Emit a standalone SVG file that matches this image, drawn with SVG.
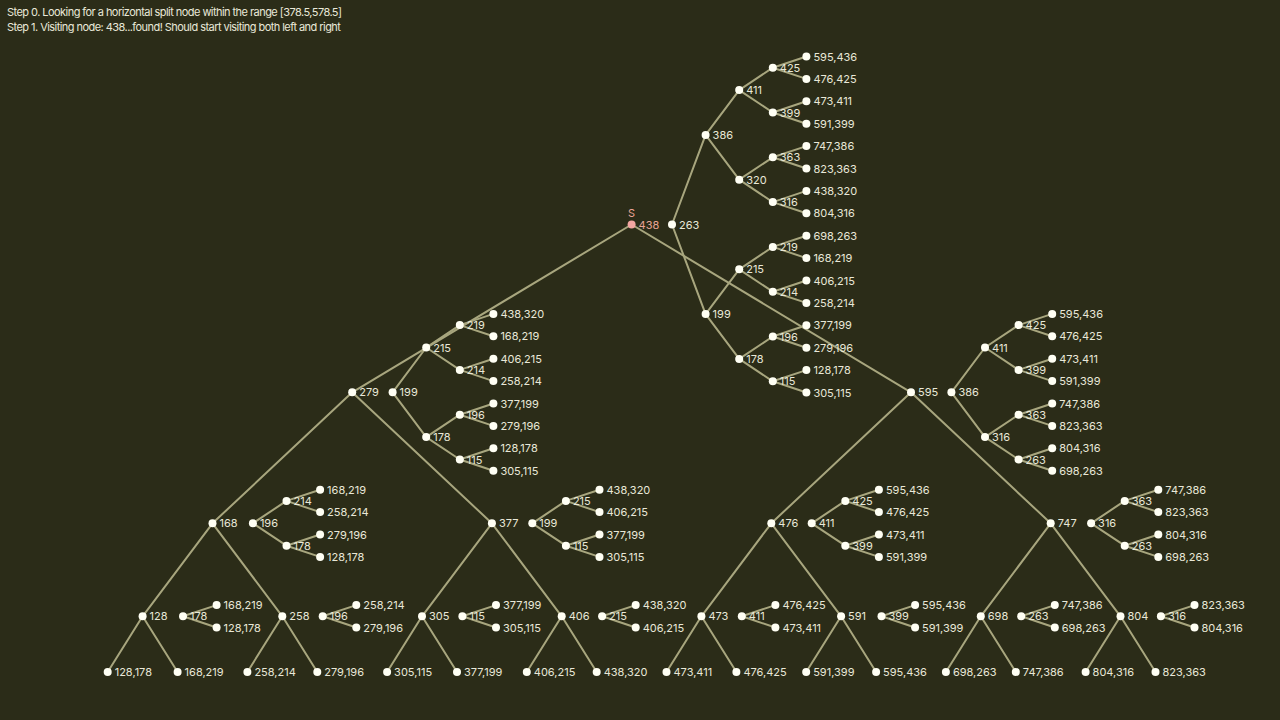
<svg xmlns="http://www.w3.org/2000/svg" width="1280" height="720" viewBox="0 0 1280 720">
<style>
.bg{fill:#2b2c18}
.e path{stroke:#a8a67e;stroke-width:2;fill:none}
.n circle{fill:#fffff4}
text{font-family:Inter,"Noto Sans","Liberation Sans",sans-serif;font-size:11px;fill:#e9e8d8}
.hd text{letter-spacing:-0.55px}
.hl circle{fill:#f3a6a2}
.hl text{fill:#e9a596}
</style>
<rect class="bg" x="0" y="0" width="1280" height="720"/>
<g id="header" class="hd">
<text x="7" y="15.5">Step 0. Looking for a horizontal split node within the range [378.5,578.5]</text>
<text x="7" y="30.5">Step 1. Visiting node: 438...found! Should start visiting both left and right</text>
</g>
<g class="e" id="connectors">
<!-- main tree -->
<path d="M631.6 224.5L352.2 392.3M631.6 224.5L911 392.3"/>
<path d="M352.2 392.3L212.5 523.3M352.2 392.3L491.9 523.3M911 392.3L771.3 523.3M911 392.3L1050.7 523.3"/>
<path d="M212.5 523.3L142.6 616.3M212.5 523.3L282.3 616.3M491.9 523.3L422 616.3M491.9 523.3L561.7 616.3M771.3 523.3L701.4 616.3M771.3 523.3L841.1 616.3M1050.7 523.3L980.8 616.3M1050.7 523.3L1120.5 616.3"/>
<path d="M142.6 616.3L107.7 672M142.6 616.3L177.6 672M282.3 616.3L247.4 672M282.3 616.3L317.3 672M422 616.3L387.1 672M422 616.3L457 672M561.7 616.3L526.8 672M561.7 616.3L596.7 672M701.4 616.3L666.5 672M701.4 616.3L736.4 672M841.1 616.3L806.2 672M841.1 616.3L876.1 672M980.8 616.3L945.9 672M980.8 616.3L1015.8 672M1120.5 616.3L1085.6 672M1120.5 616.3L1155.5 672"/>
<!-- root aux tree -->
<path d="M672 224.5L705.6 134.9M672 224.5L705.6 314.1M705.6 134.9L739.2 90.1M705.6 134.9L739.2 179.7M705.6 314.1L739.2 269.3M705.6 314.1L739.2 358.9"/>
<path d="M739.2 90.1L772.8 67.7M739.2 90.1L772.8 112.5M739.2 179.7L772.8 157.3M739.2 179.7L772.8 202.1M739.2 269.3L772.8 246.9M739.2 269.3L772.8 291.7M739.2 358.9L772.8 336.5M739.2 358.9L772.8 381.3"/>
<path d="M772.8 67.7L806.4 56.5M772.8 67.7L806.4 78.9M772.8 112.5L806.4 101.3M772.8 112.5L806.4 123.7M772.8 157.3L806.4 146.1M772.8 157.3L806.4 168.5M772.8 202.1L806.4 190.9M772.8 202.1L806.4 213.3M772.8 246.9L806.4 235.7M772.8 246.9L806.4 258.1M772.8 291.7L806.4 280.5M772.8 291.7L806.4 302.9M772.8 336.5L806.4 325.3M772.8 336.5L806.4 347.7M772.8 381.3L806.4 370.1M772.8 381.3L806.4 392.5"/>
<!-- 279 aux -->
<path d="M392.6 392.3L426.2 347.5M392.6 392.3L426.2 437.1M426.2 347.5L459.8 325.1M426.2 347.5L459.8 369.9M426.2 437.1L459.8 414.7M426.2 437.1L459.8 459.5"/>
<path d="M459.8 325.1L493.4 313.9M459.8 325.1L493.4 336.3M459.8 369.9L493.4 358.7M459.8 369.9L493.4 381.1M459.8 414.7L493.4 403.5M459.8 414.7L493.4 425.9M459.8 459.5L493.4 448.3M459.8 459.5L493.4 470.7"/>
<!-- 595 aux -->
<path d="M951.4 392.3L985 347.5M951.4 392.3L985 437.1M985 347.5L1018.6 325.1M985 347.5L1018.6 369.9M985 437.1L1018.6 414.7M985 437.1L1018.6 459.5"/>
<path d="M1018.6 325.1L1052.2 313.9M1018.6 325.1L1052.2 336.3M1018.6 369.9L1052.2 358.7M1018.6 369.9L1052.2 381.1M1018.6 414.7L1052.2 403.5M1018.6 414.7L1052.2 425.9M1018.6 459.5L1052.2 448.3M1018.6 459.5L1052.2 470.7"/>
<!-- level3 aux -->
<path d="M252.9 523.3L286.5 500.9M252.9 523.3L286.5 545.7M286.5 500.9L320.1 489.7M286.5 500.9L320.1 512.1M286.5 545.7L320.1 534.5M286.5 545.7L320.1 556.9"/>
<path d="M532.3 523.3L565.9 500.9M532.3 523.3L565.9 545.7M565.9 500.9L599.5 489.7M565.9 500.9L599.5 512.1M565.9 545.7L599.5 534.5M565.9 545.7L599.5 556.9"/>
<path d="M811.7 523.3L845.3 500.9M811.7 523.3L845.3 545.7M845.3 500.9L878.9 489.7M845.3 500.9L878.9 512.1M845.3 545.7L878.9 534.5M845.3 545.7L878.9 556.9"/>
<path d="M1091.1 523.3L1124.7 500.9M1091.1 523.3L1124.7 545.7M1124.7 500.9L1158.3 489.7M1124.7 500.9L1158.3 512.1M1124.7 545.7L1158.3 534.5M1124.7 545.7L1158.3 556.9"/>
<!-- level4 aux -->
<path d="M183 616.3L216.6 605.1M183 616.3L216.6 627.5M322.7 616.3L356.3 605.1M322.7 616.3L356.3 627.5M462.4 616.3L496 605.1M462.4 616.3L496 627.5M602.1 616.3L635.7 605.1M602.1 616.3L635.7 627.5"/>
<path d="M741.8 616.3L775.4 605.1M741.8 616.3L775.4 627.5M881.5 616.3L915.1 605.1M881.5 616.3L915.1 627.5M1021.2 616.3L1054.8 605.1M1021.2 616.3L1054.8 627.5M1160.9 616.3L1194.5 605.1M1160.9 616.3L1194.5 627.5"/>
</g>
<g id="nodes">
<!-- main tree -->
<g id="m-438" class="n hl"><text x="631.6" y="217" text-anchor="middle">S</text><circle cx="631.6" cy="224.5" r="4"/><text x="638.6" y="228.5">438</text></g>
<g id="m-279" class="n"><circle cx="352.2" cy="392.3" r="4"/><text x="359.2" y="396.3">279</text></g>
<g id="m-595" class="n"><circle cx="911" cy="392.3" r="4"/><text x="918" y="396.3">595</text></g>
<g id="m-168" class="n"><circle cx="212.5" cy="523.3" r="4"/><text x="219.5" y="527.3">168</text></g>
<g id="m-377" class="n"><circle cx="491.9" cy="523.3" r="4"/><text x="498.9" y="527.3">377</text></g>
<g id="m-476" class="n"><circle cx="771.3" cy="523.3" r="4"/><text x="778.3" y="527.3">476</text></g>
<g id="m-747" class="n"><circle cx="1050.7" cy="523.3" r="4"/><text x="1057.7" y="527.3">747</text></g>
<g id="m-128" class="n"><circle cx="142.6" cy="616.3" r="4"/><text x="149.6" y="620.3">128</text></g>
<g id="m-258" class="n"><circle cx="282.3" cy="616.3" r="4"/><text x="289.3" y="620.3">258</text></g>
<g id="m-305" class="n"><circle cx="422" cy="616.3" r="4"/><text x="429" y="620.3">305</text></g>
<g id="m-406" class="n"><circle cx="561.7" cy="616.3" r="4"/><text x="568.7" y="620.3">406</text></g>
<g id="m-473" class="n"><circle cx="701.4" cy="616.3" r="4"/><text x="708.4" y="620.3">473</text></g>
<g id="m-591" class="n"><circle cx="841.1" cy="616.3" r="4"/><text x="848.1" y="620.3">591</text></g>
<g id="m-698" class="n"><circle cx="980.8" cy="616.3" r="4"/><text x="987.8" y="620.3">698</text></g>
<g id="m-804" class="n"><circle cx="1120.5" cy="616.3" r="4"/><text x="1127.5" y="620.3">804</text></g>
<g id="m-l0" class="n"><circle cx="107.7" cy="672" r="4"/><text x="114.7" y="676">128,178</text></g>
<g id="m-l1" class="n"><circle cx="177.6" cy="672" r="4"/><text x="184.6" y="676">168,219</text></g>
<g id="m-l2" class="n"><circle cx="247.4" cy="672" r="4"/><text x="254.4" y="676">258,214</text></g>
<g id="m-l3" class="n"><circle cx="317.3" cy="672" r="4"/><text x="324.3" y="676">279,196</text></g>
<g id="m-l4" class="n"><circle cx="387.1" cy="672" r="4"/><text x="394.1" y="676">305,115</text></g>
<g id="m-l5" class="n"><circle cx="457" cy="672" r="4"/><text x="464" y="676">377,199</text></g>
<g id="m-l6" class="n"><circle cx="526.8" cy="672" r="4"/><text x="533.8" y="676">406,215</text></g>
<g id="m-l7" class="n"><circle cx="596.7" cy="672" r="4"/><text x="603.7" y="676">438,320</text></g>
<g id="m-l8" class="n"><circle cx="666.5" cy="672" r="4"/><text x="673.5" y="676">473,411</text></g>
<g id="m-l9" class="n"><circle cx="736.4" cy="672" r="4"/><text x="743.4" y="676">476,425</text></g>
<g id="m-l10" class="n"><circle cx="806.2" cy="672" r="4"/><text x="813.2" y="676">591,399</text></g>
<g id="m-l11" class="n"><circle cx="876.1" cy="672" r="4"/><text x="883.1" y="676">595,436</text></g>
<g id="m-l12" class="n"><circle cx="945.9" cy="672" r="4"/><text x="952.9" y="676">698,263</text></g>
<g id="m-l13" class="n"><circle cx="1015.8" cy="672" r="4"/><text x="1022.8" y="676">747,386</text></g>
<g id="m-l14" class="n"><circle cx="1085.6" cy="672" r="4"/><text x="1092.6" y="676">804,316</text></g>
<g id="m-l15" class="n"><circle cx="1155.5" cy="672" r="4"/><text x="1162.5" y="676">823,363</text></g>
<!-- root aux tree -->
<g id="r-263" class="n"><circle cx="672" cy="224.5" r="4"/><text x="679" y="228.5">263</text></g>
<g id="r-386" class="n"><circle cx="705.6" cy="134.9" r="4"/><text x="712.6" y="138.9">386</text></g>
<g id="r-199" class="n"><circle cx="705.6" cy="314.1" r="4"/><text x="712.6" y="318.1">199</text></g>
<g id="r-411" class="n"><circle cx="739.2" cy="90.1" r="4"/><text x="746.2" y="94.1">411</text></g>
<g id="r-320" class="n"><circle cx="739.2" cy="179.7" r="4"/><text x="746.2" y="183.7">320</text></g>
<g id="r-215" class="n"><circle cx="739.2" cy="269.3" r="4"/><text x="746.2" y="273.3">215</text></g>
<g id="r-178" class="n"><circle cx="739.2" cy="358.9" r="4"/><text x="746.2" y="362.9">178</text></g>
<g id="r-425" class="n"><circle cx="772.8" cy="67.7" r="4"/><text x="779.8" y="71.7">425</text></g>
<g id="r-399" class="n"><circle cx="772.8" cy="112.5" r="4"/><text x="779.8" y="116.5">399</text></g>
<g id="r-363" class="n"><circle cx="772.8" cy="157.3" r="4"/><text x="779.8" y="161.3">363</text></g>
<g id="r-316" class="n"><circle cx="772.8" cy="202.1" r="4"/><text x="779.8" y="206.1">316</text></g>
<g id="r-219" class="n"><circle cx="772.8" cy="246.9" r="4"/><text x="779.8" y="250.9">219</text></g>
<g id="r-214" class="n"><circle cx="772.8" cy="291.7" r="4"/><text x="779.8" y="295.7">214</text></g>
<g id="r-196" class="n"><circle cx="772.8" cy="336.5" r="4"/><text x="779.8" y="340.5">196</text></g>
<g id="r-115" class="n"><circle cx="772.8" cy="381.3" r="4"/><text x="779.8" y="385.3">115</text></g>
<g id="r-l0" class="n"><circle cx="806.4" cy="56.5" r="4"/><text x="813.4" y="60.5">595,436</text></g>
<g id="r-l1" class="n"><circle cx="806.4" cy="78.9" r="4"/><text x="813.4" y="82.9">476,425</text></g>
<g id="r-l2" class="n"><circle cx="806.4" cy="101.3" r="4"/><text x="813.4" y="105.3">473,411</text></g>
<g id="r-l3" class="n"><circle cx="806.4" cy="123.7" r="4"/><text x="813.4" y="127.7">591,399</text></g>
<g id="r-l4" class="n"><circle cx="806.4" cy="146.1" r="4"/><text x="813.4" y="150.1">747,386</text></g>
<g id="r-l5" class="n"><circle cx="806.4" cy="168.5" r="4"/><text x="813.4" y="172.5">823,363</text></g>
<g id="r-l6" class="n"><circle cx="806.4" cy="190.9" r="4"/><text x="813.4" y="194.9">438,320</text></g>
<g id="r-l7" class="n"><circle cx="806.4" cy="213.3" r="4"/><text x="813.4" y="217.3">804,316</text></g>
<g id="r-l8" class="n"><circle cx="806.4" cy="235.7" r="4"/><text x="813.4" y="239.7">698,263</text></g>
<g id="r-l9" class="n"><circle cx="806.4" cy="258.1" r="4"/><text x="813.4" y="262.1">168,219</text></g>
<g id="r-l10" class="n"><circle cx="806.4" cy="280.5" r="4"/><text x="813.4" y="284.5">406,215</text></g>
<g id="r-l11" class="n"><circle cx="806.4" cy="302.9" r="4"/><text x="813.4" y="306.9">258,214</text></g>
<g id="r-l12" class="n"><circle cx="806.4" cy="325.3" r="4"/><text x="813.4" y="329.3">377,199</text></g>
<g id="r-l13" class="n"><circle cx="806.4" cy="347.7" r="4"/><text x="813.4" y="351.7">279,196</text></g>
<g id="r-l14" class="n"><circle cx="806.4" cy="370.1" r="4"/><text x="813.4" y="374.1">128,178</text></g>
<g id="r-l15" class="n"><circle cx="806.4" cy="392.5" r="4"/><text x="813.4" y="396.5">305,115</text></g>
<!-- 279 aux -->
<g id="a279-199" class="n"><circle cx="392.6" cy="392.3" r="4"/><text x="399.6" y="396.3">199</text></g>
<g id="a279-215" class="n"><circle cx="426.2" cy="347.5" r="4"/><text x="433.2" y="351.5">215</text></g>
<g id="a279-178" class="n"><circle cx="426.2" cy="437.1" r="4"/><text x="433.2" y="441.1">178</text></g>
<g id="a279-219" class="n"><circle cx="459.8" cy="325.1" r="4"/><text x="466.8" y="329.1">219</text></g>
<g id="a279-214" class="n"><circle cx="459.8" cy="369.9" r="4"/><text x="466.8" y="373.9">214</text></g>
<g id="a279-196" class="n"><circle cx="459.8" cy="414.7" r="4"/><text x="466.8" y="418.7">196</text></g>
<g id="a279-115" class="n"><circle cx="459.8" cy="459.5" r="4"/><text x="466.8" y="463.5">115</text></g>
<g id="a279-l0" class="n"><circle cx="493.4" cy="313.9" r="4"/><text x="500.4" y="317.9">438,320</text></g>
<g id="a279-l1" class="n"><circle cx="493.4" cy="336.3" r="4"/><text x="500.4" y="340.3">168,219</text></g>
<g id="a279-l2" class="n"><circle cx="493.4" cy="358.7" r="4"/><text x="500.4" y="362.7">406,215</text></g>
<g id="a279-l3" class="n"><circle cx="493.4" cy="381.1" r="4"/><text x="500.4" y="385.1">258,214</text></g>
<g id="a279-l4" class="n"><circle cx="493.4" cy="403.5" r="4"/><text x="500.4" y="407.5">377,199</text></g>
<g id="a279-l5" class="n"><circle cx="493.4" cy="425.9" r="4"/><text x="500.4" y="429.9">279,196</text></g>
<g id="a279-l6" class="n"><circle cx="493.4" cy="448.3" r="4"/><text x="500.4" y="452.3">128,178</text></g>
<g id="a279-l7" class="n"><circle cx="493.4" cy="470.7" r="4"/><text x="500.4" y="474.7">305,115</text></g>
<!-- 595 aux -->
<g id="a595-386" class="n"><circle cx="951.4" cy="392.3" r="4"/><text x="958.4" y="396.3">386</text></g>
<g id="a595-411" class="n"><circle cx="985" cy="347.5" r="4"/><text x="992" y="351.5">411</text></g>
<g id="a595-316" class="n"><circle cx="985" cy="437.1" r="4"/><text x="992" y="441.1">316</text></g>
<g id="a595-425" class="n"><circle cx="1018.6" cy="325.1" r="4"/><text x="1025.6" y="329.1">425</text></g>
<g id="a595-399" class="n"><circle cx="1018.6" cy="369.9" r="4"/><text x="1025.6" y="373.9">399</text></g>
<g id="a595-363" class="n"><circle cx="1018.6" cy="414.7" r="4"/><text x="1025.6" y="418.7">363</text></g>
<g id="a595-263" class="n"><circle cx="1018.6" cy="459.5" r="4"/><text x="1025.6" y="463.5">263</text></g>
<g id="a595-l0" class="n"><circle cx="1052.2" cy="313.9" r="4"/><text x="1059.2" y="317.9">595,436</text></g>
<g id="a595-l1" class="n"><circle cx="1052.2" cy="336.3" r="4"/><text x="1059.2" y="340.3">476,425</text></g>
<g id="a595-l2" class="n"><circle cx="1052.2" cy="358.7" r="4"/><text x="1059.2" y="362.7">473,411</text></g>
<g id="a595-l3" class="n"><circle cx="1052.2" cy="381.1" r="4"/><text x="1059.2" y="385.1">591,399</text></g>
<g id="a595-l4" class="n"><circle cx="1052.2" cy="403.5" r="4"/><text x="1059.2" y="407.5">747,386</text></g>
<g id="a595-l5" class="n"><circle cx="1052.2" cy="425.9" r="4"/><text x="1059.2" y="429.9">823,363</text></g>
<g id="a595-l6" class="n"><circle cx="1052.2" cy="448.3" r="4"/><text x="1059.2" y="452.3">804,316</text></g>
<g id="a595-l7" class="n"><circle cx="1052.2" cy="470.7" r="4"/><text x="1059.2" y="474.7">698,263</text></g>
<!-- 168 aux -->
<g id="a168-196" class="n"><circle cx="252.9" cy="523.3" r="4"/><text x="259.9" y="527.3">196</text></g>
<g id="a168-214" class="n"><circle cx="286.5" cy="500.9" r="4"/><text x="293.5" y="504.9">214</text></g>
<g id="a168-178" class="n"><circle cx="286.5" cy="545.7" r="4"/><text x="293.5" y="549.7">178</text></g>
<g id="a168-l0" class="n"><circle cx="320.1" cy="489.7" r="4"/><text x="327.1" y="493.7">168,219</text></g>
<g id="a168-l1" class="n"><circle cx="320.1" cy="512.1" r="4"/><text x="327.1" y="516.1">258,214</text></g>
<g id="a168-l2" class="n"><circle cx="320.1" cy="534.5" r="4"/><text x="327.1" y="538.5">279,196</text></g>
<g id="a168-l3" class="n"><circle cx="320.1" cy="556.9" r="4"/><text x="327.1" y="560.9">128,178</text></g>
<!-- 377 aux -->
<g id="a377-199" class="n"><circle cx="532.3" cy="523.3" r="4"/><text x="539.3" y="527.3">199</text></g>
<g id="a377-215" class="n"><circle cx="565.9" cy="500.9" r="4"/><text x="572.9" y="504.9">215</text></g>
<g id="a377-115" class="n"><circle cx="565.9" cy="545.7" r="4"/><text x="572.9" y="549.7">115</text></g>
<g id="a377-l0" class="n"><circle cx="599.5" cy="489.7" r="4"/><text x="606.5" y="493.7">438,320</text></g>
<g id="a377-l1" class="n"><circle cx="599.5" cy="512.1" r="4"/><text x="606.5" y="516.1">406,215</text></g>
<g id="a377-l2" class="n"><circle cx="599.5" cy="534.5" r="4"/><text x="606.5" y="538.5">377,199</text></g>
<g id="a377-l3" class="n"><circle cx="599.5" cy="556.9" r="4"/><text x="606.5" y="560.9">305,115</text></g>
<!-- 476 aux -->
<g id="a476-411" class="n"><circle cx="811.7" cy="523.3" r="4"/><text x="818.7" y="527.3">411</text></g>
<g id="a476-425" class="n"><circle cx="845.3" cy="500.9" r="4"/><text x="852.3" y="504.9">425</text></g>
<g id="a476-399" class="n"><circle cx="845.3" cy="545.7" r="4"/><text x="852.3" y="549.7">399</text></g>
<g id="a476-l0" class="n"><circle cx="878.9" cy="489.7" r="4"/><text x="885.9" y="493.7">595,436</text></g>
<g id="a476-l1" class="n"><circle cx="878.9" cy="512.1" r="4"/><text x="885.9" y="516.1">476,425</text></g>
<g id="a476-l2" class="n"><circle cx="878.9" cy="534.5" r="4"/><text x="885.9" y="538.5">473,411</text></g>
<g id="a476-l3" class="n"><circle cx="878.9" cy="556.9" r="4"/><text x="885.9" y="560.9">591,399</text></g>
<!-- 747 aux -->
<g id="a747-316" class="n"><circle cx="1091.1" cy="523.3" r="4"/><text x="1098.1" y="527.3">316</text></g>
<g id="a747-363" class="n"><circle cx="1124.7" cy="500.9" r="4"/><text x="1131.7" y="504.9">363</text></g>
<g id="a747-263" class="n"><circle cx="1124.7" cy="545.7" r="4"/><text x="1131.7" y="549.7">263</text></g>
<g id="a747-l0" class="n"><circle cx="1158.3" cy="489.7" r="4"/><text x="1165.3" y="493.7">747,386</text></g>
<g id="a747-l1" class="n"><circle cx="1158.3" cy="512.1" r="4"/><text x="1165.3" y="516.1">823,363</text></g>
<g id="a747-l2" class="n"><circle cx="1158.3" cy="534.5" r="4"/><text x="1165.3" y="538.5">804,316</text></g>
<g id="a747-l3" class="n"><circle cx="1158.3" cy="556.9" r="4"/><text x="1165.3" y="560.9">698,263</text></g>
<!-- level4 aux -->
<g id="a128-178" class="n"><circle cx="183" cy="616.3" r="4"/><text x="190" y="620.3">178</text></g>
<g id="a128-l0" class="n"><circle cx="216.6" cy="605.1" r="4"/><text x="223.6" y="609.1">168,219</text></g>
<g id="a128-l1" class="n"><circle cx="216.6" cy="627.5" r="4"/><text x="223.6" y="631.5">128,178</text></g>
<g id="a258-196" class="n"><circle cx="322.7" cy="616.3" r="4"/><text x="329.7" y="620.3">196</text></g>
<g id="a258-l0" class="n"><circle cx="356.3" cy="605.1" r="4"/><text x="363.3" y="609.1">258,214</text></g>
<g id="a258-l1" class="n"><circle cx="356.3" cy="627.5" r="4"/><text x="363.3" y="631.5">279,196</text></g>
<g id="a305-115" class="n"><circle cx="462.4" cy="616.3" r="4"/><text x="469.4" y="620.3">115</text></g>
<g id="a305-l0" class="n"><circle cx="496" cy="605.1" r="4"/><text x="503" y="609.1">377,199</text></g>
<g id="a305-l1" class="n"><circle cx="496" cy="627.5" r="4"/><text x="503" y="631.5">305,115</text></g>
<g id="a406-215" class="n"><circle cx="602.1" cy="616.3" r="4"/><text x="609.1" y="620.3">215</text></g>
<g id="a406-l0" class="n"><circle cx="635.7" cy="605.1" r="4"/><text x="642.7" y="609.1">438,320</text></g>
<g id="a406-l1" class="n"><circle cx="635.7" cy="627.5" r="4"/><text x="642.7" y="631.5">406,215</text></g>
<g id="a473-411" class="n"><circle cx="741.8" cy="616.3" r="4"/><text x="748.8" y="620.3">411</text></g>
<g id="a473-l0" class="n"><circle cx="775.4" cy="605.1" r="4"/><text x="782.4" y="609.1">476,425</text></g>
<g id="a473-l1" class="n"><circle cx="775.4" cy="627.5" r="4"/><text x="782.4" y="631.5">473,411</text></g>
<g id="a591-399" class="n"><circle cx="881.5" cy="616.3" r="4"/><text x="888.5" y="620.3">399</text></g>
<g id="a591-l0" class="n"><circle cx="915.1" cy="605.1" r="4"/><text x="922.1" y="609.1">595,436</text></g>
<g id="a591-l1" class="n"><circle cx="915.1" cy="627.5" r="4"/><text x="922.1" y="631.5">591,399</text></g>
<g id="a698-263" class="n"><circle cx="1021.2" cy="616.3" r="4"/><text x="1028.2" y="620.3">263</text></g>
<g id="a698-l0" class="n"><circle cx="1054.8" cy="605.1" r="4"/><text x="1061.8" y="609.1">747,386</text></g>
<g id="a698-l1" class="n"><circle cx="1054.8" cy="627.5" r="4"/><text x="1061.8" y="631.5">698,263</text></g>
<g id="a804-316" class="n"><circle cx="1160.9" cy="616.3" r="4"/><text x="1167.9" y="620.3">316</text></g>
<g id="a804-l0" class="n"><circle cx="1194.5" cy="605.1" r="4"/><text x="1201.5" y="609.1">823,363</text></g>
<g id="a804-l1" class="n"><circle cx="1194.5" cy="627.5" r="4"/><text x="1201.5" y="631.5">804,316</text></g>
</g>
</svg>
